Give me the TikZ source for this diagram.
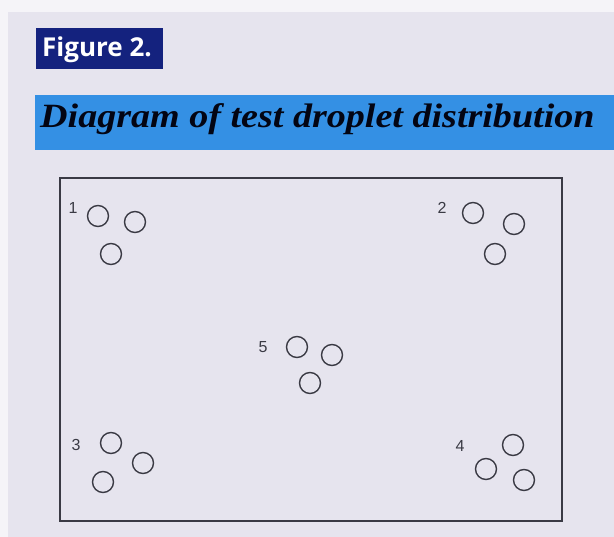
\documentclass[tikz,border=0pt]{standalone}
\usepackage{fontspec}
\setmainfont{Liberation Serif}
\setsansfont{Liberation Sans}
\newfontfamily\figfont{Open Sans}
\usepackage{xcolor}
\definecolor{paper}{HTML}{E6E4EE}
\definecolor{navy}{HTML}{14227E}
\definecolor{barblue}{HTML}{3490E4}
\definecolor{ink}{HTML}{3A3A44}

\begin{document}
\begin{tikzpicture}[
		x=1pt, y=-1pt,
		drop/.style={circle,draw=ink,line width=1.4pt,minimum size=21pt,inner sep=0pt},
		num/.style={font=\sffamily\fontsize{16}{16}\selectfont,text=ink,inner sep=0pt}
	]
		\useasboundingbox (0,0) rectangle (614,537);
		\clip (0,0) rectangle (614,537);
		\fill[paper] (0,0) rectangle (614,537);
		\fill[paper!40!white] (0,0) rectangle (614,12);
		\fill[paper!40!white] (0,0) rectangle (8,537);

		% titre
		\fill[navy] (36,28) rectangle (163,69);
		\node[anchor=base west,text=white,inner sep=0pt,font=\figfont\bfseries\fontsize{26}{26}\selectfont] (fig) at (42,57) {Figure 2.};
		\fill[barblue] (35,95) rectangle (614,150);
		\node[anchor=base west,text=black!85!navy,inner sep=0pt,xscale=1.12,font=\bfseries\itshape\fontsize{34}{34}\selectfont] (title) at (40,128) {Diagram of test droplet distribution};

		% plaque
		\draw[ink,line width=1.6pt] (60,178) rectangle (562,521);

		% groupe 1
		\node[num] (n1) at (73,208) {1};
		\node[drop] (d1a) at (98,216) {};
		\node[drop] (d1b) at (135,222) {};
		\node[drop] (d1c) at (111,254) {};

		% groupe 2
		\node[num] (n2) at (442,208) {2};
		\node[drop] (d2a) at (473,213) {};
		\node[drop] (d2b) at (514,224) {};
		\node[drop] (d2c) at (495,254) {};

		% groupe 5
		\node[num] (n5) at (263,347) {5};
		\node[drop] (d5a) at (297,347) {};
		\node[drop] (d5b) at (332,355) {};
		\node[drop] (d5c) at (310,383) {};

		% groupe 3
		\node[num] (n3) at (76,445) {3};
		\node[drop] (d3a) at (111,443) {};
		\node[drop] (d3b) at (143,463) {};
		\node[drop] (d3c) at (103,482) {};

		% groupe 4
		\node[num] (n4) at (460,446) {4};
		\node[drop] (d4a) at (513,445) {};
		\node[drop] (d4b) at (486,469) {};
		\node[drop] (d4c) at (524,480) {};
	\end{tikzpicture}
\end{document}
